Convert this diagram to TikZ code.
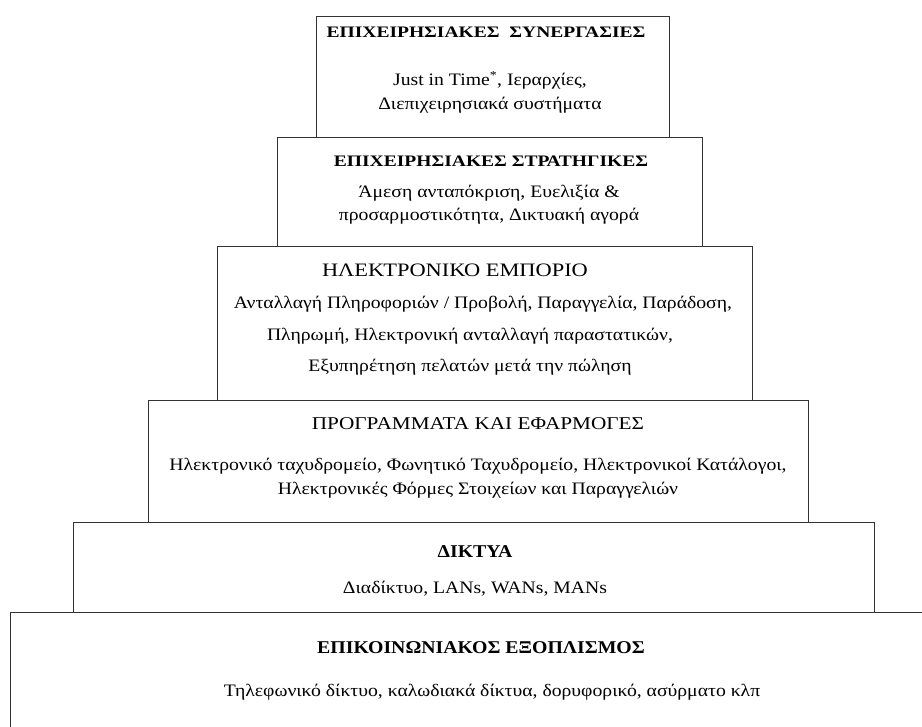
\documentclass[tikz,border=0pt]{standalone}
\usepackage{fontspec}
\setmainfont{Liberation Serif}[FakeStretch=1.125]
\newfontfamily\ttlfont{Liberation Serif}[FakeStretch=1.18]
\newfontfamily\ttlbfont{Liberation Serif Bold}[FakeStretch=1.22]
\newfontfamily\ttlbsfont{Liberation Serif Bold}[FakeStretch=1.1]
\begin{document}
\begin{tikzpicture}[x=1pt,y=-1pt,
  tier/.style={draw=black!80, line width=1.3pt, inner sep=0pt, anchor=north west},
  ttlb/.style={font=\ttlbfont\fontsize{16}{18}\selectfont, inner sep=0pt},
  ttlc/.style={font=\ttlbsfont\fontsize{18}{20}\selectfont, inner sep=0pt},
  ttl/.style={font=\ttlfont\fontsize{18}{20}\selectfont, inner sep=0pt},
  txt/.style={font=\fontsize{17.5}{20}\selectfont, inner sep=0pt}]
\useasboundingbox (0,0) rectangle (922,727);
\clip (0,0) rectangle (922,727);
% tiers
\node[tier, minimum width=353pt, minimum height=121pt] (b1) at (316,16) {};
\node[tier, minimum width=425pt, minimum height=109pt] (b2) at (277,137) {};
\node[tier, minimum width=535pt, minimum height=154pt] (b3) at (217,246) {};
\node[tier, minimum width=660pt, minimum height=122pt] (b4) at (148,400) {};
\node[tier, minimum width=801pt, minimum height=90pt] (b5) at (73,522) {};
\node[tier, minimum width=940pt, minimum height=140pt] (b6) at (10,612) {};
% texts
\node[ttlb] (t1) at (486,32) {ΕΠΙΧΕΙΡΗΣΙΑΚΕΣ\ \ ΣΥΝΕΡΓΑΣΙΕΣ};
\node[txt] (l11) at (490,80) {Just in Time\textsuperscript{*}, Ιεραρχίες,};
\node[txt] (l12) at (490,105) {Διεπιχειρησιακά συστήματα};
\node[ttlb] (t2) at (491,161) {ΕΠΙΧΕΙΡΗΣΙΑΚΕΣ ΣΤΡΑΤΗΓΙΚΕΣ};
\node[txt] (l21) at (489,193) {Άμεση ανταπόκριση, Ευελιξία \&};
\node[txt] (l22) at (489,216) {προσαρμοστικότητα, Δικτυακή αγορά};
\node[ttl, font=\ttlfont\fontsize{19}{20}\selectfont] (t3) at (455,270) {ΗΛΕΚΤΡΟΝΙΚΟ ΕΜΠΟΡΙΟ};
\node[txt] (l31) at (483,304) {Ανταλλαγή Πληροφοριών / Προβολή, Παραγγελία, Παράδοση,};
\node[txt] (l32) at (470,336) {Πληρωμή, Ηλεκτρονική ανταλλαγή παραστατικών,};
\node[txt] (l33) at (470,367) {Εξυπηρέτηση πελατών μετά την πώληση};
\node[ttl] (t4) at (478,424) {ΠΡΟΓΡΑΜΜΑΤΑ ΚΑΙ ΕΦΑΡΜΟΓΕΣ};
\node[txt] (l41) at (478,466) {Ηλεκτρονικό ταχυδρομείο, Φωνητικό Ταχυδρομείο, Ηλεκτρονικοί Κατάλογοι,};
\node[txt] (l42) at (478,490) {Ηλεκτρονικές Φόρμες Στοιχείων και Παραγγελιών};
\node[ttlc] (t5) at (475,552) {ΔΙΚΤΥΑ};
\node[txt] (l51) at (475,589) {Διαδίκτυο, LANs, WANs, MANs};
\node[ttlc] (t6) at (481,648) {ΕΠΙΚΟΙΝΩΝΙΑΚΟΣ ΕΞΟΠΛΙΣΜΟΣ};
\node[txt] (l61) at (492,692) {Τηλεφωνικό δίκτυο, καλωδιακά δίκτυα, δορυφορικό, ασύρματο κλπ};
\end{tikzpicture}
\end{document}
